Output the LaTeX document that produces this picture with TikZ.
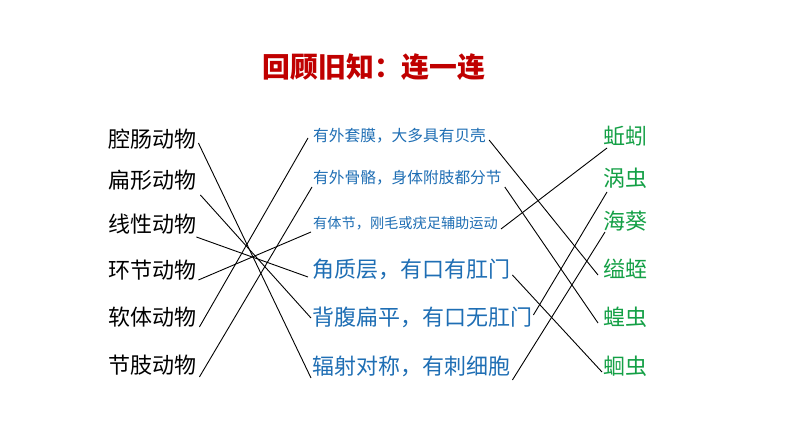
\documentclass[tikz,border=0pt]{standalone}
\usepackage{fontspec}
\setmainfont{Noto Sans CJK SC}
\definecolor{tred}{RGB}{192,0,0}
\definecolor{tblue}{RGB}{30,110,180}
\definecolor{tgreen}{RGB}{20,160,70}
\begin{document}
\begin{tikzpicture}[x=1pt,y=-1pt,
  lbl/.style={anchor=west,inner sep=0pt,text height=0.75em,text depth=0.25em},
  animal/.style={lbl,font=\fontsize{22}{22}\selectfont,text=black},
  featsm/.style={lbl,font=\fontsize{15.7}{16}\selectfont,text=tblue},
  featxs/.style={lbl,font=\fontsize{14.2}{15}\selectfont,text=tblue},
  featbig/.style={lbl,font=\fontsize{22}{22}\selectfont,text=tblue},
  species/.style={lbl,font=\fontsize{22}{22}\selectfont,text=tgreen},
  link/.style={draw=black,line width=0.9pt}]
\useasboundingbox[fill=white] (0,0) rectangle (794,446);
\node[anchor=center,inner sep=0pt,text height=0.75em,text depth=0.25em,
  font=\fontsize{27.8}{28}\selectfont\bfseries,text=tred] (title) at (374,75) {回顾旧知：连一连};
% left
\node[animal] (a1) at (108,145) {腔肠动物};
\node[animal] (a2) at (108,186) {扁形动物};
\node[animal] (a3) at (108,230) {线性动物};
\node[animal] (a4) at (108,276) {环节动物};
\node[animal] (a5) at (108,323) {软体动物};
\node[animal] (a6) at (108,371) {节肢动物};
% middle
\node[featsm] (m1) at (313,139) {有外套膜，大多具有贝壳};
\node[featsm] (m2) at (313,181) {有外骨骼，身体附肢都分节};
\node[featxs] (m3) at (313,226) {有体节，刚毛或疣足辅助运动};
\node[featbig] (m4) at (312,275) {角质层，有口有肛门};
\node[featbig] (m5) at (312,323) {背腹扁平，有口无肛门};
\node[featbig] (m6) at (312,372) {辐射对称，有刺细胞};
% right
\node[species] (r1) at (603,142) {蚯蚓};
\node[species] (r2) at (603,184) {涡虫};
\node[species] (r3) at (603,227) {海葵};
\node[species] (r4) at (603,275) {缢蛭};
\node[species] (r5) at (603,323) {蝗虫};
\node[species] (r6) at (603,372) {蛔虫};
% left links
\draw[link] ([xshift=2pt,yshift=2pt]a1.east) -- ([xshift=-1pt,yshift=-6pt]m6.west);
\draw[link] ([xshift=4pt,yshift=-9pt]a2.east) -- ([xshift=-1pt,yshift=5pt]m5.west);
\draw[link] ([xshift=0pt,yshift=-7pt]a3.east) -- ([xshift=-4pt,yshift=-2pt]m4.west);
\draw[link] ([xshift=2pt,yshift=-4pt]a4.east) -- ([xshift=-2pt,yshift=-6pt]m3.west);
\draw[link] ([xshift=3pt,yshift=-4pt]a5.east) -- ([xshift=-5pt,yshift=1pt]m1.west);
\draw[link] ([xshift=3pt,yshift=-6pt]a6.east) -- ([xshift=-1pt,yshift=-6pt]m2.west);
% right links
\draw[link] ([xshift=3pt,yshift=-1pt]m1.east) -- ([xshift=-5pt]r4.west);
\draw[link] ([xshift=3pt,yshift=-6pt]m2.east) -- ([xshift=-5pt]r5.west);
\draw[link] ([xshift=3pt,yshift=-3pt]m3.east) -- ([xshift=4pt,yshift=-6pt]r1.west);
\draw[link] ([xshift=2pt]m4.east) -- ([xshift=-1pt]r6.west);
\draw[link] ([xshift=1pt,yshift=8pt]m5.east) -- ([xshift=4pt,yshift=-8pt]r2.west);
\draw[link] ([xshift=2pt,yshift=-8pt]m6.east) -- ([xshift=2pt,yshift=-5pt]r3.west);
\end{tikzpicture}
\end{document}
